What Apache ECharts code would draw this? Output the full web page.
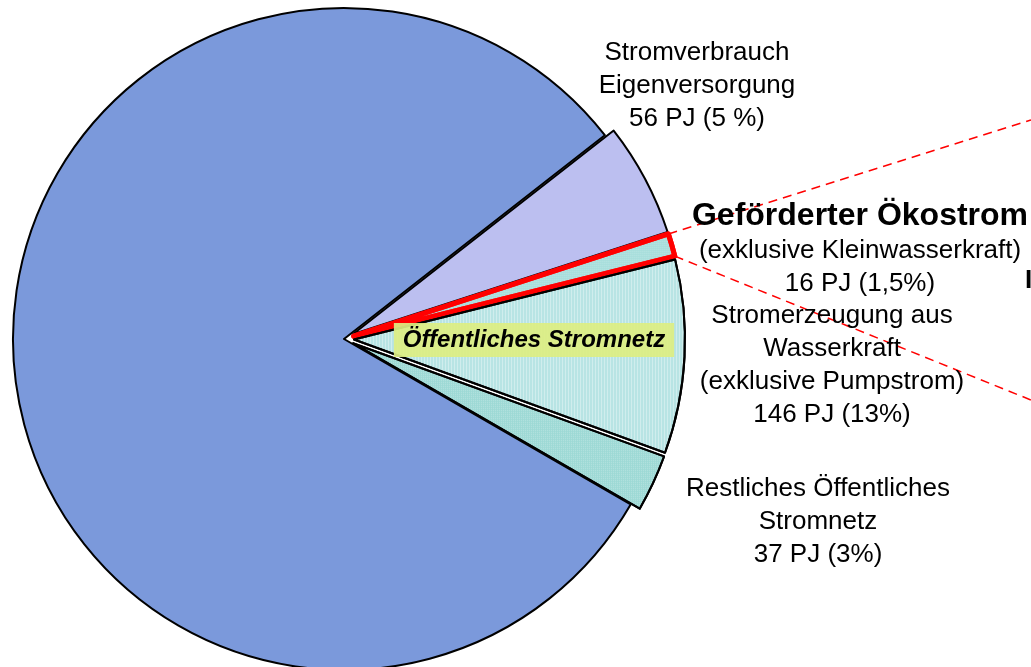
<!DOCTYPE html>
<html>
<head>
<meta charset="utf-8">
<script src="https://cdn.jsdelivr.net/npm/echarts@6/dist/echarts.min.js"></script>
<style>
html, body { margin: 0; padding: 0; background: #fff; }
#chart { width: 1031px; height: 667px; }
</style>
</head>
<body>
<div id="chart"></div>
<script>
// Slices, clockwise from the top of the exploded group
const sliceNames = ['Stromverbrauch Eigenversorgung', 'Geförderter Ökostrom', 'Stromerzeugung aus Wasserkraft', 'Restliches Öffentliches Stromnetz', 'Übriger Verbrauch'];
// Values printed in the labels
const energyPJ = [56, 16, 146, 37];
const shareText = ['5 %', '1,5%', '13%', '3%'];
// Angle each slice covers in the drawn pie (degrees)
const sliceDegrees = [20, 4, 34, 10, 292];
const explodedSlices = [true, true, true, true, false];
const sliceColors = ['#bcbff0', '#a6dedb', '#b8e4e4', '#9dd9d5', '#7b99db'];

const FONT = "'Liberation Sans', Arial, sans-serif";
const CENTER = [344, 339];
const RADIUS = 331;
const START_ANGLE = 38;
const OFFSET = 10;

// Label lines for each exploded slice
const labelLines = [
    ['Stromverbrauch', 'Eigenversorgung', energyPJ[0] + ' PJ (' + shareText[0] + ')'],
    ['(exklusive Kleinwasserkraft)', energyPJ[1] + ' PJ (' + shareText[1] + ')'],
    ['Stromerzeugung aus', 'Wasserkraft', '(exklusive Pumpstrom)', energyPJ[2] + ' PJ (' + shareText[2] + ')'],
    ['Restliches Öffentliches', 'Stromnetz', energyPJ[3] + ' PJ (' + shareText[3] + ')']
];
// Centre of each label block
const labelPos = [[697, 86], [860, 267], [832, 365], [818, 522]];

const chart = echarts.init(document.getElementById('chart'));

function buildData() {
    return sliceNames.map(function(name, i) {
        const isOeko = i === 1;
        const style = {
            color: sliceColors[i],
            borderColor: isOeko ? '#ff0000' : '#000000',
            borderWidth: isOeko ? 5 : 2
        };
        if (i === 2) {
            style.decal = { symbol: 'rect', symbolSize: 1, dashArrayX: [1, 2], dashArrayY: [1, 0], color: 'rgba(255,255,255,0.35)' };
        }
        if (i === 3 || i === 1) {
            style.decal = { symbol: 'rect', symbolSize: 1, dashArrayX: [1, 1], dashArrayY: [1, 1], color: 'rgba(255,255,255,0.3)' };
        }
        return {
            name: name,
            value: sliceDegrees[i],
            selected: explodedSlices[i],
            itemStyle: style,
            select: { itemStyle: style }
        };
    });
}

// Dashed red connector lines from the Ökostrom slice to the right edge
function connectorLines() {
    const a0 = START_ANGLE - sliceDegrees[0];
    const a1 = a0 - sliceDegrees[1];
    const mid = (a0 + a1) / 2 * Math.PI / 180;
    const ox = CENTER[0] + OFFSET * Math.cos(mid);
    const oy = CENTER[1] - OFFSET * Math.sin(mid);
    const p0 = [ox + RADIUS * Math.cos(a0 * Math.PI / 180), oy - RADIUS * Math.sin(a0 * Math.PI / 180)];
    const p1 = [ox + RADIUS * Math.cos(a1 * Math.PI / 180), oy - RADIUS * Math.sin(a1 * Math.PI / 180)];
    const lineStyle = { stroke: '#ff0000', lineWidth: 1.5, lineDash: [9, 6] };
    return [
        { type: 'line', z: 10, shape: { x1: p0[0], y1: p0[1], x2: 1031, y2: 120 }, style: lineStyle },
        { type: 'line', z: 10, shape: { x1: p1[0], y1: p1[1], x2: 1031, y2: 400 }, style: lineStyle }
    ];
}

function labelTexts() {
    const items = labelLines.map(function(lines, i) {
        return {
            type: 'text',
            z: 15,
            x: labelPos[i][0],
            y: labelPos[i][1],
            style: {
                text: lines.join('\n'),
                fontFamily: FONT,
                fontSize: 26,
                lineHeight: 33,
                fill: '#000',
                align: 'center',
                verticalAlign: 'middle'
            }
        };
    });
    // Bold heading of the Ökostrom label
    items.push({
        type: 'text',
        z: 15,
        x: 860,
        y: 216,
        style: {
            text: 'Geförderter Ökostrom',
            fontFamily: FONT,
            fontSize: 32,
            fontWeight: 'bold',
            fill: '#000',
            align: 'center',
            verticalAlign: 'middle'
        }
    });
    return items;
}

const option = {
    animation: false,
    series: [{
        type: 'pie',
        center: CENTER,
        radius: RADIUS,
        startAngle: START_ANGLE,
        clockwise: true,
        selectedMode: 'multiple',
        selectedOffset: OFFSET,
        emphasis: { disabled: true },
        label: { show: false },
        labelLine: { show: false },
        data: buildData()
    }],
    graphic: connectorLines().concat(labelTexts()).concat([
        {
            type: 'text',
            z: 20,
            x: 534,
            y: 340,
            style: {
                text: 'Öffentliches Stromnetz',
                fontFamily: FONT,
                fontSize: 24,
                fontWeight: 'bold',
                fontStyle: 'italic',
                fill: '#000',
                align: 'center',
                verticalAlign: 'middle',
                backgroundColor: 'rgba(220,238,130,0.92)',
                padding: [5, 9]
            }
        },
        {
            type: 'text',
            z: 20,
            x: 1025,
            y: 281,
            style: {
                text: 'I',
                fontFamily: FONT,
                fontSize: 26,
                fontWeight: 'bold',
                fill: '#000',
                align: 'left',
                verticalAlign: 'middle'
            }
        }
    ])
};

chart.setOption(option);
</script>
</body>
</html>
